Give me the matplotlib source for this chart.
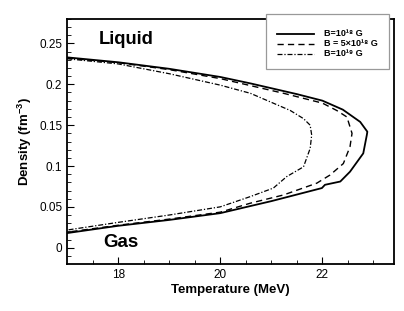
import matplotlib
matplotlib.use('Agg')
import matplotlib.pyplot as plt
from matplotlib.patches import Rectangle
from matplotlib.lines import Line2D
import numpy as np

plt.rcParams['font.family'] = ['Liberation Sans', 'DejaVu Sans']
plt.rcParams['mathtext.fontset'] = 'custom'
plt.rcParams['mathtext.rm'] = 'Liberation Sans'
plt.rcParams['mathtext.bf'] = 'Liberation Sans:bold'

# B = 1e18 G (solid)
T_a = [17.0, 18.0, 19.0, 20.0, 20.6, 21.5, 22.0, 22.4, 22.74, 22.88, 22.87, 22.8, 22.54,
       22.35, 22.05, 21.99, 21.0, 20.59, 20.0, 19.0, 18.0, 17.0]
n_a = [0.233, 0.227, 0.219, 0.209, 0.201, 0.188, 0.180, 0.169, 0.154, 0.142, 0.138, 0.1155,
       0.093, 0.081, 0.077, 0.073, 0.057, 0.051, 0.0423, 0.034, 0.0268, 0.0179]

# B = 5e18 G (dashed)
T_b = [17.0, 18.0, 19.0, 20.0, 21.24, 22.0, 22.28, 22.48, 22.58, 22.54, 22.41, 22.15,
       21.89, 21.24, 20.59, 20.0, 19.0, 18.0, 17.0]
n_b = [0.232, 0.2265, 0.218, 0.207, 0.189, 0.177, 0.168, 0.160, 0.140, 0.1235, 0.103,
       0.089, 0.079, 0.0646, 0.0545, 0.0435, 0.035, 0.0275, 0.019]

# B = 1e19 G (dash-dot)
T_c = [17.0, 18.0, 19.0, 20.0, 20.59, 21.37, 21.63, 21.76, 21.79, 21.76, 21.63, 21.30,
       21.04, 20.59, 20.0, 19.0, 18.0, 17.0]
n_c = [0.2313, 0.225, 0.213, 0.199, 0.189, 0.168, 0.158, 0.150, 0.138, 0.1215, 0.099,
       0.087, 0.073, 0.0626, 0.050, 0.040, 0.031, 0.0216]

labels = ['B=10\u00b9\u2078 G', 'B = 5\u00d710\u00b9\u2078 G', 'B=10\u00b9\u2079 G']

W, H = 404, 311
fig = plt.figure(figsize=(W / 100, H / 100), dpi=100)
ax = fig.add_axes([0.166, 0.151, 0.809, 0.788])

styles = [dict(lw=1.3, ls='-'),
          dict(lw=1.0, dashes=(4.5, 3)),
          dict(lw=0.9, dashes=(4, 1.5, 1, 1.5))]
for T, n, st in zip([T_a, T_b, T_c], [n_a, n_b, n_c], styles):
    ax.plot(T, n, color='k', **st)

ax.set_xlim(17.0, 23.4)
ax.set_ylim(-0.02, 0.28)
ax.set_xticks([18, 20, 22])
ax.set_xticks(np.arange(17.5, 23.5, 0.5), minor=True)
ax.set_yticks([0, 0.05, 0.1, 0.15, 0.2, 0.25])
ax.set_yticklabels(['0', '0.05', '0.1', '0.15', '0.2', '0.25'])
ax.set_yticks(np.arange(-0.01, 0.28, 0.01), minor=True)
ax.tick_params(which='both', direction='in', labelsize=8.5, top=False, right=False)
ax.tick_params(which='major', length=5, width=0.8)
ax.tick_params(which='minor', length=3, width=0.6)
for s in ax.spines.values():
    s.set_linewidth(1.3)

ax.set_xlabel('Temperature (MeV)', fontsize=9.5, fontweight='bold', labelpad=2)
ax.set_ylabel('Density (fm$^{\\mathbf{-3}}$)', fontsize=9.5, fontweight='bold', labelpad=4)

ax.text(17.63, 0.255, 'Liquid', fontsize=13.2, fontweight='bold', va='center')
ax.text(17.7, 0.006, 'Gas', fontsize=13.5, fontweight='bold', va='center')

# legend box (tecplot style, overlaps the top of the frame)
box = Rectangle((266 / W, 1 - 69 / H), 123 / W, 55 / H, transform=fig.transFigure,
                facecolor='white', edgecolor='#999999', lw=0.9, zorder=9)
fig.patches.append(box)
for i, (lab, st) in enumerate(zip(labels, styles)):
    yy = 1 - (33.5 + 10.2 * i) / H
    fig.add_artist(Line2D([277 / W, 314 / W], [yy, yy], color='k', zorder=10, **st))
    fig.text(324 / W, yy, lab, fontsize=6.5, fontweight='bold', va='center', zorder=10)

fig.savefig('out.png', dpi=100)
